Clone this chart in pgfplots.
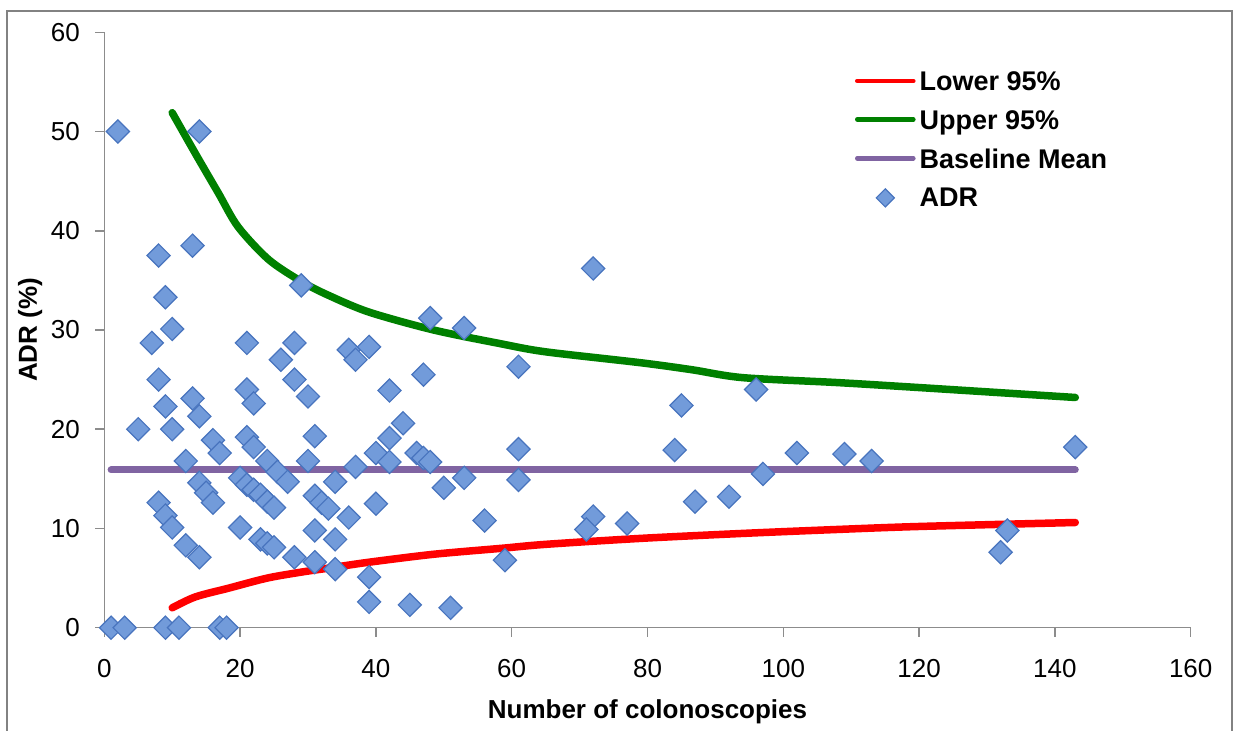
\documentclass[border=0pt]{standalone}
\usepackage{pgfplots}
\pgfplotsset{compat=1.18}
\usepackage{fontspec}
\setmainfont{Liberation Sans}
\definecolor{adrfill}{RGB}{114,155,218}
\definecolor{adrdraw}{RGB}{72,116,190}
\definecolor{lowred}{RGB}{255,0,0}
\definecolor{upgreen}{RGB}{0,128,0}
\definecolor{basepurple}{RGB}{128,100,162}
\definecolor{axisgray}{RGB}{140,140,140}
\definecolor{framegray}{RGB}{130,130,130}

\pgfplotstableread{
x y
1 0
3 0
9 0
11 0
17 0
18 0
2 50
14 50
8 37.5
13 38.5
9 33.3
10 30.1
7 28.7
8 25
9 22.3
13 23.1
14 21.3
5 20
10 20
16 18.9
17 17.6
12 16.8
14 14.6
15 13.6
16 12.6
8 12.6
9 11.3
10 10.1
12 8.3
14 7.1
21 28.7
26 27
28 28.7
28 25
30 23.3
21 24
22 22.6
31 19.3
21 19.2
22 18.2
24 16.8
25.5 15.7
27 14.7
30 16.8
20 15.1
21 14.4
22 13.9
23 13.4
24 12.7
25 12.1
20 10.1
23 8.9
24 8.5
25 8.1
28 7.1
31 6.6
31 9.8
31 13.3
32 12.6
33 12.0
29 34.5
36 28
37 27
39 28.3
48 31.2
53 30.2
61 26.3
47 25.5
42 23.9
44 20.6
42 19.1
40 17.6
42 16.7
46 17.6
47 17.1
48 16.7
37 16.2
61 18
61 14.9
53 15.1
50 14.1
34 14.7
36 11.1
40 12.5
56 10.8
34 8.9
59 6.8
34 5.9
39 5.1
39 2.6
45 2.3
51 2.0
72 36.2
85 22.4
96 24
84 17.9
102 17.6
109 17.5
97 15.5
87 12.7
92 13.2
72 11.2
71 9.9
77 10.5
113 16.8
143 18.2
133 9.8
132 7.6
}\adrdata

\pgfplotstableread{
x y
10 51.9
13.4 47.8
16.8 43.8
19.7 40.4
24.2 37.1
29 34.9
33 33.5
39 31.8
48.5 30.0
58.5 28.6
65 27.8
79 26.7
86.5 26.0
94 25.2
108 24.7
120 24.2
143 23.2
}\upperdata

\pgfplotstableread{
x y
10 2.0
13.4 3.1
18.4 4.0
24 5.0
29 5.6
33 6.0
39 6.6
48.5 7.4
58.5 8.0
65 8.4
79 9.0
94 9.5
108 9.9
120 10.2
143 10.6
}\lowerdata

\pgfplotstableread{
x y
1 15.9
143 15.9
}\basedata

\begin{document}
\begin{tikzpicture}
\begin{axis}[
  scale only axis,
  width=543.2pt, height=297.7pt,
  xmin=0, xmax=160, ymin=0, ymax=60,
  xtick={0,20,...,160}, ytick={0,10,...,60},
  axis x line*=bottom, axis y line*=left,
  axis line style={draw=axisgray, line width=0.75pt},
  tick style={draw=axisgray, line width=0.75pt},
  tick align=outside, major tick length=4.5pt,
  /pgf/number format/assume math mode=true,
  tick label style={font=\fontsize{13}{15}\selectfont},
  xticklabel style={anchor=north, inner sep=0pt, yshift=-11pt},
  yticklabel style={anchor=east, inner sep=0pt, xshift=-7.5pt},
  xlabel={Number of colonoscopies},
  ylabel={ADR (\%)},
  label style={font=\bfseries\fontsize{13}{15}\selectfont},
  xlabel style={at={(axis description cs:0.5,-0.1517)}, anchor=base},
  ylabel style={at={(axis description cs:-0.062,0.5)}, anchor=base, rotate=0},
  legend style={draw=none, fill=none, at={(axis description cs:0.691,0.94)}, anchor=north west,
    inner sep=0pt, outer sep=0pt, font=\bfseries\fontsize{13.5}{15}\selectfont,
    row sep=4.3pt, column sep=0pt},
  legend cell align=left,
]
\addplot[lowred, line width=3.75pt, line cap=round, smooth,
  legend image code/.code={\draw[lowred, line width=2.3pt, line cap=round] (0pt,1pt) -- (28pt,1pt);}]
  table[x=x,y=y] {\lowerdata};
\addlegendentry{Lower 95\%}
\addplot[upgreen, line width=3.75pt, line cap=round, smooth,
  legend image code/.code={\draw[upgreen, line width=2.3pt, line cap=round] (0pt,1pt) -- (28pt,1pt);}]
  table[x=x,y=y] {\upperdata};
\addlegendentry{Upper 95\%}
\addplot[basepurple, line width=3.5pt, line cap=round,
  legend image code/.code={\draw[basepurple, line width=2.3pt, line cap=round] (0pt,1pt) -- (28pt,1pt);}]
  table[x=x,y=y] {\basedata};
\addlegendentry{Baseline Mean}
\addplot[only marks, mark=square*, mark size=4.1pt,
  mark options={rotate=45, fill=adrfill, draw=adrdraw, line width=0.6pt},
  legend image code/.code={\draw[only marks, mark=square*, mark size=3.2pt, mark options={rotate=45, fill=adrfill, draw=adrdraw, line width=0.6pt}] plot coordinates {(14pt,0.5pt)};}]
  table[x=x,y=y] {\adrdata};
\addlegendentry{ADR}
\end{axis}
\draw[framegray, line width=1pt] ([xshift=-48.65pt,yshift=-80pt]current axis.south west) rectangle ([xshift=20.65pt,yshift=10.65pt]current axis.north east);
\pgfresetboundingbox
\useasboundingbox ([xshift=-52.15pt,yshift=-51.65pt]current axis.south west) rectangle ([xshift=25.15pt,yshift=16.15pt]current axis.north east);
\end{tikzpicture}
\end{document}
